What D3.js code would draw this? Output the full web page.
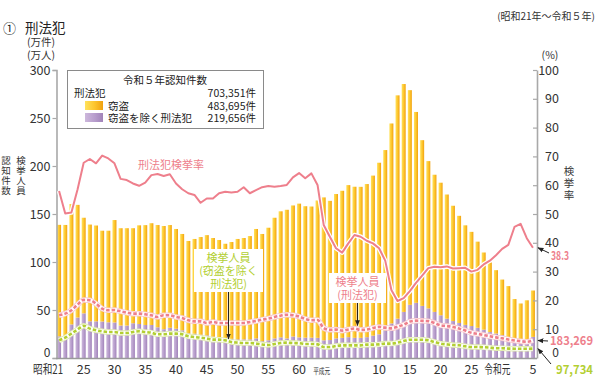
<!DOCTYPE html>
<html>
<head>
<meta charset="utf-8">
<script src="https://cdn.jsdelivr.net/npm/d3@7"></script>
<style>
body { margin: 0; background: #fff; }
svg { display: block; font-family: "Noto Sans CJK JP", "Noto Sans", sans-serif; }
</style>
</head>
<body>
<div id="chart"></div>
<script>
// Years shown on the x-axis (昭和21年 = 1946 ... 令和5年 = 2023)
const years = [1946,1947,1948,1949,1950,1951,1952,1953,1954,1955,1956,1957,1958,1959,1960,1961,1962,1963,1964,1965,
  1966,1967,1968,1969,1970,1971,1972,1973,1974,1975,1976,1977,1978,1979,1980,1981,1982,1983,1984,1985,
  1986,1987,1988,1989,1990,1991,1992,1993,1994,1995,1996,1997,1998,1999,2000,2001,2002,2003,2004,2005,
  2006,2007,2008,2009,2010,2011,2012,2013,2014,2015,2016,2017,2018,2019,2020,2021,2022,2023];

// 刑法犯 認知件数 (万件)
const total = [138.7,138.6,160.4,159.5,146.1,139.0,138.0,132.6,132.6,143.7,135.2,135.2,135.2,138.2,138.4,140.4,138.5,137.5,138.5,134.4,
  129.2,121.9,124.0,126.0,128.0,125.0,122.9,119.0,120.8,124.0,125.0,127.0,134.4,129.2,135.7,146.1,152.8,154.4,158.9,160.8,
  158.1,157.8,164.1,167.3,163.7,170.8,174.2,180.1,178.4,178.3,181.2,190.0,203.4,216.6,244.3,273.6,285.4,279.0,256.3,226.9,
  205.1,190.9,182.6,170.3,158.6,148.1,138.2,131.4,121.2,109.9,99.6,91.5,81.7,74.9,61.4,56.8,60.1,70.3];

// 窃盗を除く刑法犯 認知件数 (万件)
const other = [22.6,21.0,35.0,42.2,46.5,38.2,38.2,38.0,37.2,37.0,33.8,33.8,36.2,35.4,34.4,34.4,32.0,30.0,31.5,30.5,
  28.8,25.7,25.3,24.3,23.6,22.3,21.5,20.4,20.0,19.4,19.4,19.4,20.4,17.5,18.5,20.4,21.5,20.4,22.4,21.5,
  21.2,21.2,21.0,18.4,18.7,20.4,21.0,21.7,21.0,21.0,21.7,23.3,24.7,28.8,36.0,41.0,48.0,55.4,57.5,54.3,
  51.7,48.0,44.5,41.0,38.5,36.5,34.5,33.3,31.5,29.5,27.0,25.5,23.8,22.0,20.2,18.6,19.3,22.0];

// 刑法犯検挙率 (%)
const rate = [58.0,50.2,50.5,58.5,67.8,69.1,67.6,70.3,69.3,67.6,62.2,61.8,60.6,59.8,60.9,63.5,63.9,63.2,63.8,60.6,
  58.6,57.2,56.6,53.9,55.4,55.4,57.2,57.7,57.5,57.7,59.3,57.2,58.3,59.3,59.7,59.5,59.7,60.1,62.7,64.2,
  62.4,64.1,60.1,46.2,42.1,38.1,36.6,39.8,42.7,42.1,40.7,39.8,38.1,33.8,23.6,19.8,20.8,23.2,26.1,28.6,
  31.2,31.7,31.5,31.8,31.1,31.2,31.3,30.0,30.6,32.5,33.8,35.7,37.9,39.3,45.5,46.6,41.6,38.3];

// 検挙人員 刑法犯 (万人)
const arrestAll = [44.5,46.2,49.7,55.6,60.5,60.1,56.6,51.4,49.7,50.0,48.6,47.3,46.2,46.2,45.5,44.5,42.7,44.5,44.5,42.7,
  41.7,39.3,38.2,38.2,36.5,37.5,36.5,36.5,36.5,36.5,36.5,37.5,38.5,40.0,41.0,42.7,44.1,45.1,44.6,43.2,
  40.7,39.3,39.6,31.2,29.3,29.6,28.5,29.7,30.7,29.3,29.6,31.3,32.4,31.6,30.9,32.5,34.7,37.9,38.9,38.7,
  38.4,36.5,34.0,33.3,32.3,30.6,28.7,26.2,25.1,23.9,22.6,21.5,20.6,19.3,18.3,17.5,16.9,18.3];

// 検挙人員 窃盗を除く刑法犯 (万人)
const arrestOther = [18.4,21.2,25.4,29.6,33.5,30.6,28.9,27.8,27.1,27.1,26.0,26.0,27.1,27.8,27.1,26.4,24.7,24.7,25.4,25.4,
  24.7,22.6,21.9,21.2,20.2,19.1,19.1,18.4,16.7,16.0,15.6,15.6,15.0,14.0,13.6,14.6,15.6,16.0,15.6,15.4,
  14.6,14.6,14.2,11.5,11.5,12.5,13.2,13.2,13.2,13.2,13.9,13.9,14.2,15.0,15.0,16.0,17.6,19.0,19.0,19.0,
  18.4,16.7,15.0,14.2,13.5,13.2,12.2,11.5,11.4,11.2,10.8,10.2,10.2,9.8,9.7,9.6,9.6,9.77];

// x-axis tick labels
const tickYears = [1946,1950,1955,1960,1965,1970,1975,1980,1985,1989,1993,1998,2003,2008,2013,2019,2023];
const tickLabels = ["昭和21","25","30","35","40","45","50","55","60","平成元","5","10","15","20","25","令和元","5"];

// legend
const legendTitle = "令和５年認知件数";
const legendNames = ["刑法犯", "窃盗", "窃盗を除く刑法犯"];
const legendCounts = ["703,351件", "483,695件", "219,656件"];

// end labels
const endLabels = ["38.3", "183,269", "97,734"];

const pink = "#ee7f8c", green = "#b3cf32";

const svg = d3.select("#chart").append("svg")
  .attr("width", 599).attr("height", 384);

// gradients for the bars
const defs = svg.append("defs");
function grad(id, stops) {
  const g = defs.append("linearGradient").attr("id", id).attr("x1", 0).attr("x2", 1).attr("y1", 0).attr("y2", 0);
  stops.forEach(s => g.append("stop").attr("offset", s[0]).attr("stop-color", s[1]));
}
grad("gTheft", [[0, "#ffe25c"], [0.55, "#fdc42b"], [1, "#f0a10f"]]);
grad("gOther", [[0, "#cdb8dc"], [0.55, "#b79dcc"], [1, "#a183b9"]]);
defs.append("marker").attr("id", "arrow").attr("viewBox", "0 0 10 10")
  .attr("refX", 9).attr("refY", 5).attr("markerWidth", 6).attr("markerHeight", 6)
  .attr("orient", "auto-start-reverse")
  .append("path").attr("d", "M0,1 L10,5 L0,9 z").attr("fill", "#222");

// scales
const x = d3.scaleBand().domain(years).range([56, 536]).paddingInner(0.35).paddingOuter(0.175);
const y = d3.scaleLinear().domain([0, 300]).range([358, 70]);
const yR = d3.scaleLinear().domain([0, 100]).range([358, 70]);
const cx = yr => x(yr) + x.bandwidth() / 2;

// stacked bars
const rows = years.map((yr, i) => ({ year: yr, other: other[i], theft: total[i] - other[i] }));
const series = d3.stack().keys(["other", "theft"])(rows);
svg.append("g").selectAll("g")
  .data(series)
  .enter().append("g")
  .attr("fill", d => d.key === "theft" ? "url(#gTheft)" : "url(#gOther)")
  .selectAll("rect")
  .data(d => d)
  .enter().append("rect")
  .attr("x", d => x(d.data.year))
  .attr("y", d => y(d[1]))
  .attr("width", x.bandwidth())
  .attr("height", d => y(d[0]) - y(d[1]));

// axes
const axisColor = "#a9a9a9";
const gL = svg.append("g").attr("transform", "translate(56.5,0)")
  .call(d3.axisLeft(y).tickValues(d3.range(0, 301, 50)).tickSize(4).tickPadding(2));
const gR = svg.append("g").attr("transform", "translate(537,0)")
  .call(d3.axisRight(yR).tickValues(d3.range(0, 101, 10)).tickSizeInner(-4).tickSizeOuter(0).tickPadding(22));
[gL, gR].forEach(g => {
  g.select(".domain").attr("stroke", axisColor).attr("stroke-width", 1.6);
  g.selectAll(".tick line").attr("stroke", axisColor).attr("stroke-width", 1.2);
  g.selectAll(".tick text").attr("fill", "#333").style("font-size", "12.5px")
    .style("font-family", "'Noto Sans CJK JP', sans-serif");
  // the zero label sits slightly above the baseline
  g.selectAll(".tick text").filter(d => d === 0).attr("y", -5).style("font-size", "12px");
});
gR.selectAll(".tick text").attr("text-anchor", "end");

// baseline
svg.append("line").attr("x1", 56).attr("x2", 537).attr("y1", 358.5).attr("y2", 358.5)
  .attr("stroke", "#9a9a9a").attr("stroke-width", 1.6);

// x tick labels (era names are squeezed as in the original)
const eraWidth = { "昭和21": 30, "平成元": 17, "令和元": 26 };
const eraShift = { "昭和21": 4, "平成元": -2, "令和元": 2 };
svg.append("g").selectAll("text")
  .data(tickYears)
  .enter().append("text")
  .attr("x", (d, i) => cx(d) + (eraShift[tickLabels[i]] || 0))
  .attr("y", 374)
  .attr("text-anchor", (d, i) => (tickLabels[i].length > 2 && tickLabels[i] !== "平成元") ? "end" : "middle")
  .attr("fill", "#333")
  .style("font-size", (d, i) => tickLabels[i] === "平成元" ? "8.5px" : "12.5px")
  .each(function(d, i) {
    const w = eraWidth[tickLabels[i]];
    if (w) d3.select(this).attr("textLength", w).attr("lengthAdjust", "spacingAndGlyphs");
  })
  .text((d, i) => tickLabels[i]);

// lines
const lineR = d3.line().x((d, i) => cx(years[i])).y(d => yR(d));
const lineL = d3.line().x((d, i) => cx(years[i])).y(d => y(d)).curve(d3.curveMonotoneX);

svg.append("path").datum(rate).attr("d", lineR).attr("fill", "none")
  .attr("stroke", "#fff").attr("stroke-width", 4.5).attr("stroke-linejoin", "round");
svg.append("path").datum(rate).attr("d", lineR).attr("fill", "none")
  .attr("stroke", pink).attr("stroke-width", 2).attr("stroke-linejoin", "round");

function dashed(data, color, outer) {
  svg.append("path").datum(data).attr("d", lineL).attr("fill", "none")
    .attr("stroke", outer).attr("stroke-width", 5.5);
  svg.append("path").datum(data).attr("d", lineL).attr("fill", "none")
    .attr("stroke", "#fff").attr("stroke-width", 3.8);
  svg.append("path").datum(data).attr("d", lineL).attr("fill", "none")
    .attr("stroke", color).attr("stroke-width", 2.6).attr("stroke-dasharray", "3.5,2");
}
dashed(arrestAll, pink, "#f8c9ce");
dashed(arrestOther, green, "#e2edb0");

// titles
svg.append("text").attr("x", 3).attr("y", 33).style("font-size", "13px").attr("fill", "#222").text("①");
svg.append("text").attr("x", 25).attr("y", 33).style("font-size", "13.5px").attr("fill", "#222").text("刑法犯");
svg.append("text").attr("x", 595).attr("y", 20).attr("text-anchor", "end").style("font-size", "10px")
  .attr("fill", "#333").text("(昭和21年～令和５年)");
svg.append("text").attr("x", 41).attr("y", 46).attr("text-anchor", "middle").style("font-size", "10.5px").attr("fill", "#333").text("(万件)");
svg.append("text").attr("x", 41).attr("y", 59).attr("text-anchor", "middle").style("font-size", "10.5px").attr("fill", "#333").text("(万人)");
svg.append("text").attr("x", 550).attr("y", 59).attr("text-anchor", "middle").style("font-size", "10.5px").attr("fill", "#333").text("(%)");

function vertical(txt, xc, yTop, size, gap) {
  svg.append("text").attr("x", xc).attr("y", yTop)
    .style("writing-mode", "vertical-rl").style("letter-spacing", gap + "px")
    .style("font-size", size + "px").attr("fill", "#333").text(txt);
}
vertical("認知件数", 6, 156, 9.5, 0.3);
vertical("検挙人員", 21, 156, 9.5, 0.3);
vertical("検挙率", 569, 166, 10.5, 1.5);

// legend box
const lg = svg.append("g");
lg.append("rect").attr("x", 67.5).attr("y", 70.5).attr("width", 196).attr("height", 58)
  .attr("fill", "#fff").attr("stroke", "#8a8a8a");
lg.append("text").attr("x", 165).attr("y", 84).attr("text-anchor", "middle").style("font-size", "10.5px")
  .attr("fill", "#222").text(legendTitle);
const lgY = [97, 110, 122];
legendNames.forEach((n, i) => {
  lg.append("text").attr("x", i === 0 ? 74 : 108).attr("y", lgY[i]).style("font-size", "10.5px")
    .attr("fill", "#222").text(n);
  lg.append("text").attr("x", 256).attr("y", lgY[i]).attr("text-anchor", "end").style("font-size", "10.5px")
    .attr("fill", "#222").text(legendCounts[i]);
  if (i > 0) lg.append("rect").attr("x", 85).attr("y", lgY[i] - 9).attr("width", 18).attr("height", 9)
    .attr("fill", i === 1 ? "url(#gTheft)" : "url(#gOther)");
});

// annotations
svg.append("text").attr("x", 171).attr("y", 169).attr("text-anchor", "middle").style("font-size", "11px")
  .attr("fill", pink).text("刑法犯検挙率");

function callout(x0, y0, w, h, lines, color, tipX, tipY) {
  svg.append("rect").attr("x", x0).attr("y", y0).attr("width", w).attr("height", h).attr("fill", "#fff");
  lines.forEach((t, i) => svg.append("text").attr("x", x0 + w / 2).attr("y", y0 + 13 + i * 13)
    .attr("text-anchor", "middle").style("font-size", "11px").attr("fill", color).text(t));
  svg.append("line").attr("x1", tipX).attr("x2", tipX).attr("y1", y0 + h).attr("y2", tipY)
    .attr("stroke", "#222").attr("stroke-width", 1).attr("marker-end", "url(#arrow)");
}
callout(194, 249, 69, 43, ["検挙人員", "(窃盗を除く", "刑法犯)"], green, 228.5, y(arrestOther[28]) - 3);
callout(329, 273, 57, 30, ["検挙人員", "(刑法犯)"], pink, 357.5, y(arrestAll[48]) - 3);

// end labels with arrows
const last = years.length - 1;
const ends = [
  { v: yR(rate[last]), tx: 551, ty: 260, fx: 549, fy: 253, c: pink, w: 18 },
  { v: y(arrestAll[last]), tx: 550, ty: 345, fx: 548, fy: 341, c: pink, w: 43 },
  { v: y(arrestOther[last]), tx: 556, ty: 374, fx: 551, fy: 364, c: green, w: 37 }
];
ends.forEach((e, i) => {
  svg.append("line").attr("x1", e.fx).attr("y1", e.fy).attr("x2", 538).attr("y2", e.v)
    .attr("stroke", "#222").attr("stroke-width", 1).attr("marker-end", "url(#arrow)");
  svg.append("text").attr("x", e.tx).attr("y", e.ty).style("font-size", "12px").style("font-weight", "bold")
    .attr("textLength", e.w).attr("lengthAdjust", "spacingAndGlyphs")
    .attr("fill", e.c).text(endLabels[i]);
});
</script>
</body>
</html>
